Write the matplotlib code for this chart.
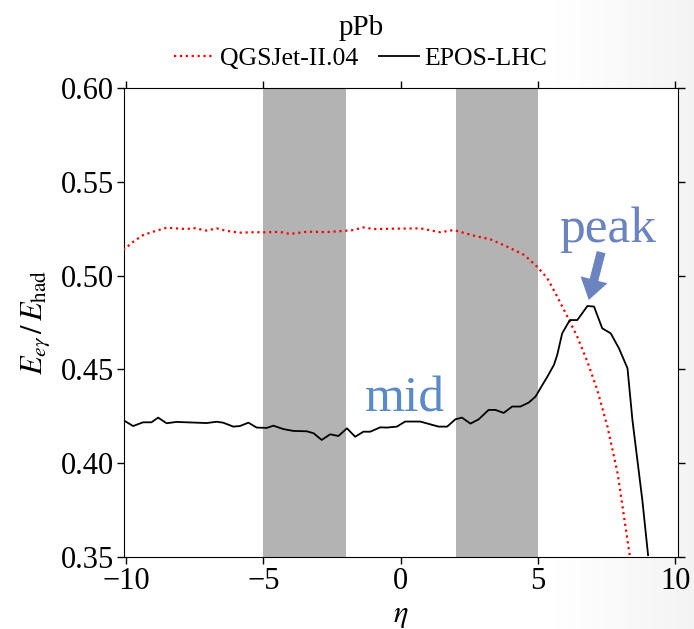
import numpy as np
import matplotlib
matplotlib.use("Agg")
import matplotlib.pyplot as plt

plt.rcParams['font.family'] = ['Liberation Serif', 'DejaVu Serif']
plt.rcParams['mathtext.fontset'] = 'stix'

# ---- data ----
qgs_eta = [-10.11, -9.75, -9.40, -9.02, -8.53, -7.80, -7.56, -7.07, -6.71, -6.34,
           -5.86, -5.37, -5.00, -4.40, -4.03, -3.42, -2.70, -2.09, -1.72, -1.36,
           -0.99, -0.30, 0.71, 1.44, 1.93, 2.66, 3.27, 3.88, 4.50, 4.99,
           5.34, 5.70, 6.07, 6.43, 6.80, 7.16, 7.53, 7.90, 8.26, 8.40]
qgs_val = [0.5136, 0.5180, 0.5215, 0.5234, 0.5255, 0.5248, 0.5254, 0.5240, 0.5252, 0.5238,
           0.5229, 0.5231, 0.5231, 0.5233, 0.5222, 0.5234, 0.5232, 0.5238, 0.5243, 0.5257,
           0.5248, 0.5250, 0.5252, 0.5231, 0.5243, 0.5213, 0.5193, 0.5154, 0.5110, 0.5044,
           0.4986, 0.4888, 0.4781, 0.4674, 0.4541, 0.4390, 0.4195, 0.3946, 0.3590, 0.3450]

epos_eta = [-10.11, -9.75, -9.39, -9.08, -8.84, -8.53, -8.17, -7.07, -6.71, -6.47,
            -6.10, -5.86, -5.55, -5.25, -4.88, -4.64, -4.28, -3.91, -3.42, -3.18,
            -2.88, -2.57, -2.27, -1.96, -1.66, -1.36, -1.11, -0.75, -0.50, -0.14,
            0.16, 0.71, 1.08, 1.38, 1.69, 1.99, 2.23, 2.54, 2.84, 3.20,
            3.45, 3.75, 4.06, 4.36, 4.66, 4.91, 5.09, 5.34, 5.58, 5.70,
            5.88, 6.16, 6.43, 6.61, 6.80, 7.04, 7.34, 7.65, 7.95, 8.26,
            8.44, 8.80, 9.01]
epos_val = [0.4230, 0.4198, 0.4218, 0.4218, 0.4243, 0.4213, 0.4220, 0.4214, 0.4221, 0.4216,
            0.4195, 0.4198, 0.4216, 0.4190, 0.4188, 0.4200, 0.4182, 0.4172, 0.4170, 0.4160,
            0.4124, 0.4154, 0.4145, 0.4186, 0.4141, 0.4168, 0.4168, 0.4191, 0.4190, 0.4195,
            0.4222, 0.4222, 0.4207, 0.4195, 0.4195, 0.4234, 0.4243, 0.4211, 0.4234, 0.4284,
            0.4284, 0.4268, 0.4302, 0.4302, 0.4323, 0.4355, 0.4400, 0.4461, 0.4524, 0.4577,
            0.4692, 0.4763, 0.4763, 0.4799, 0.4838, 0.4835, 0.4719, 0.4692, 0.4612, 0.4506,
            0.4230, 0.3804, 0.3510]

bands = [(-5, -2), (2, 5)]
xticks = [-10, -5, 0, 5, 10]
yticks = [0.35, 0.40, 0.45, 0.50, 0.55, 0.60]

W, H = 694, 629
fig = plt.figure(figsize=(W / 100, H / 100), dpi=100)

# subtle slide-like background gradient on the right
xx = np.linspace(0, 1, W)
shade = 1 - 0.045 * np.clip((xx - 0.8) / 0.2, 0, 1)
bg = np.tile(shade[None, :, None], (H, 1, 3))
fig.figimage(bg, xo=0, yo=0, zorder=-10)

ax = fig.add_axes([123.5 / W, 1 - 557 / H, (678 - 123.5) / W, (557 - 88) / H])

for a, b in bands:
    ax.axvspan(a, b, color='#b3b3b3', lw=0, zorder=1)

ax.plot(qgs_eta, qgs_val, color='red', ls=':', lw=1.6, label='QGSJet-II.04', zorder=3)
ax.plot(epos_eta, epos_val, color='black', ls='-', lw=1.3, label='EPOS-LHC', zorder=3)

ax.set_xlim(-10.1, 10.1)
ax.set_ylim(0.35, 0.60)
ax.set_xticks(xticks)
ax.set_yticks(yticks)
ax.set_xticklabels(['\u221210', '\u22125', '0', '5', '10'])
ax.set_yticklabels([f'{v:.2f}' for v in yticks])
ax.tick_params(axis='both', labelsize=22, direction='out', length=5, width=1,
               top=True, right=True, pad=2)

ax.set_xlabel(r'$\eta$', fontsize=22, labelpad=4)
ax.set_ylabel(r'$E_{e\gamma}\,/\,E_{\rm had}$', fontsize=22, labelpad=6)

ax.text(0.15, 0.4273, 'mid', color='#5b8ac8', fontsize=37, ha='center',
        va='baseline', zorder=5)
ax.text(7.54, 0.518, 'peak', color='#6b83bf', fontsize=37, ha='center',
        va='baseline', zorder=5)
ax.annotate('', xy=(6.85, 0.4870), xytext=(7.30, 0.5125),
            arrowprops=dict(arrowstyle='simple,head_width=1.0,head_length=0.75,tail_width=0.32',
                            color='#6b83bf', mutation_scale=20, lw=0, shrinkA=0, shrinkB=0),
            zorder=5)

fig.text(361 / W, 1 - 35 / H, 'pPb', ha='center', va='baseline', fontsize=21)
ax.legend(loc='center', bbox_to_anchor=(361 / W, 1 - 59 / H),
          bbox_transform=fig.transFigure, ncol=2, frameon=False, fontsize=18.5,
          handlelength=1.56, handletextpad=0.23, columnspacing=0.78,
          borderpad=0, borderaxespad=0)

fig.savefig('out.png', dpi=100)
